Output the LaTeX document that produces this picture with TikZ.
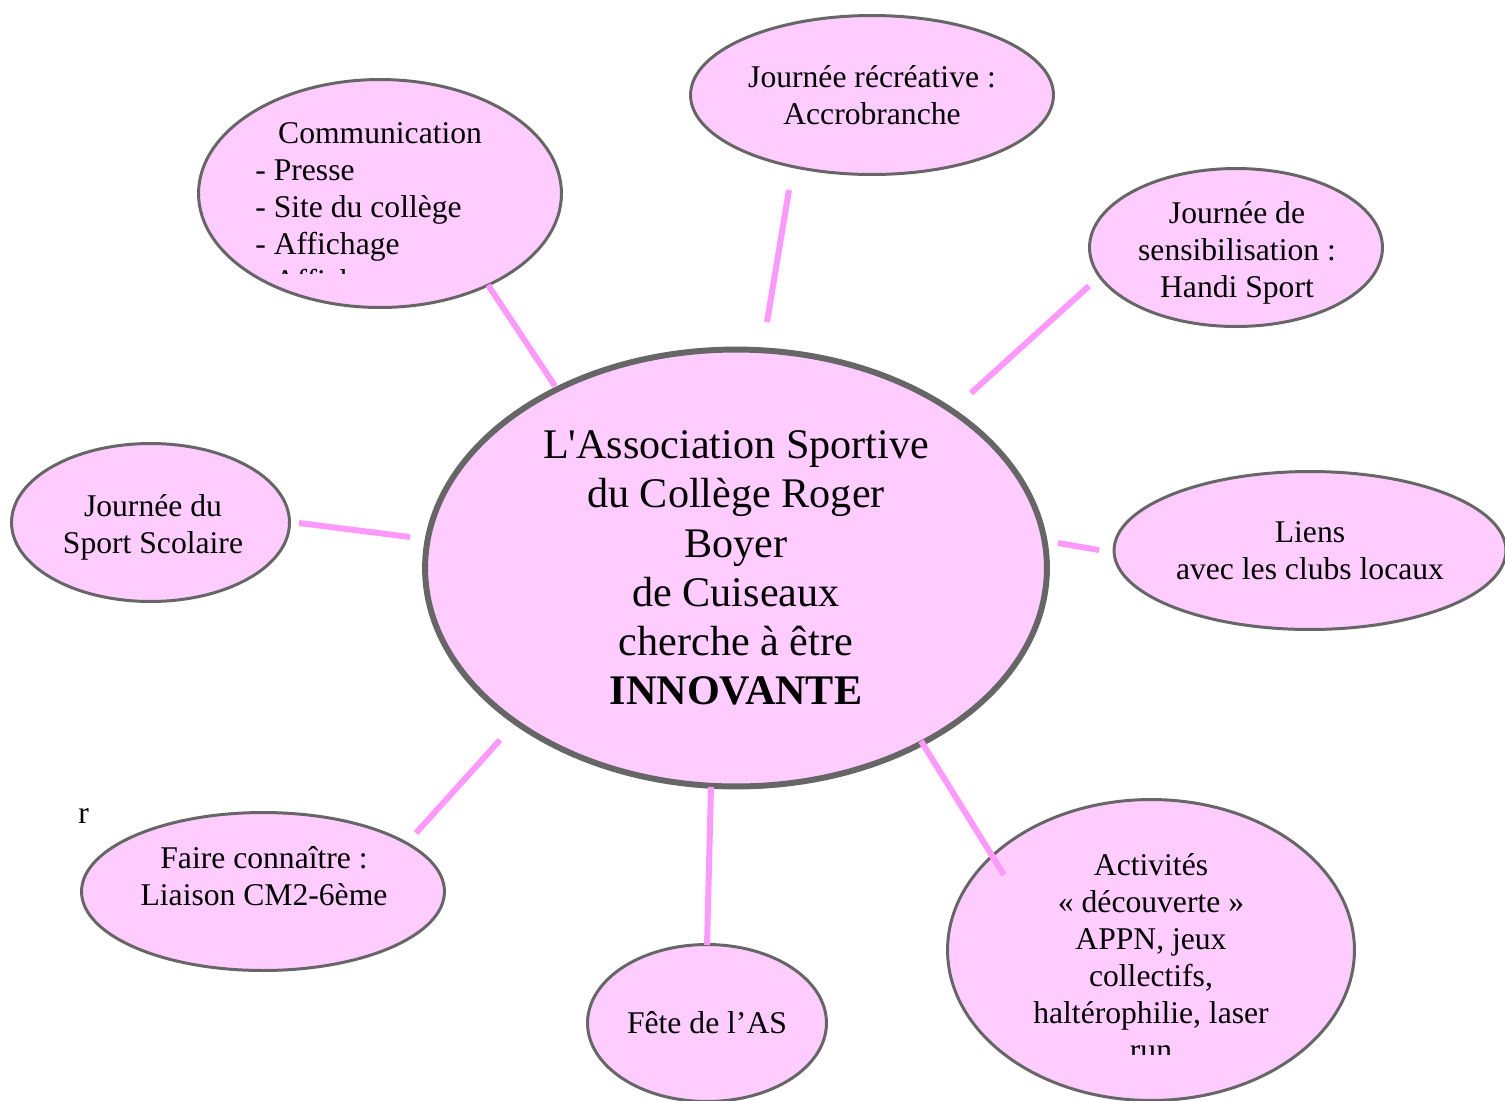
\documentclass[tikz,border=0pt]{standalone}
\usepackage{fontspec}
\setmainfont{Liberation Serif}[Ligatures=TeXOff]
\usetikzlibrary{shapes.geometric}
\definecolor{bubblefill}{HTML}{FFCCFF}
\definecolor{bubbleline}{HTML}{666666}
\definecolor{linkpink}{HTML}{FF99FF}
\tikzset{
  bubble/.style={ellipse,draw=bubbleline,fill=bubblefill,line width=1.7pt,inner sep=0pt,align=center,font=\fontsize{18}{21}\selectfont},
  hub/.style={bubble,line width=3.4pt,font=\fontsize{24}{28}\selectfont},
  txt/.style={inner sep=0pt,align=center,font=\fontsize{18}{21}\selectfont},
  link/.style={draw=linkpink,line width=3.4pt}
}
\begin{document}
\begin{tikzpicture}[x=0.02cm,y=-0.02cm]
      \clip (0,0) rectangle (1505,1100);
      \fill[white] (0,0) rectangle (1505,1100);
      % bubbles
      \node[hub,minimum width=12.44cm,minimum height=8.74cm] (as) at (736,568)
        {L'Association Sportive\\du Collège Roger\\Boyer\\de Cuiseaux\\cherche à être\\\textbf{INNOVANTE}};
      \node[bubble,minimum width=7.26cm,minimum height=4.56cm] (comm) at (380,193.5) {};
      \node[bubble,minimum width=7.26cm,minimum height=3.18cm] (recre) at (872,95) {Journée récréative :\\Accrobranche};
      \node[bubble,minimum width=5.86cm,minimum height=3.16cm] (handi) at (1236,247.5) {};
      \node[bubble,minimum width=7.84cm,minimum height=3.16cm] (liens) at (1310,550.5) {Liens\\avec les clubs locaux};
      \node[bubble,minimum width=5.56cm,minimum height=3.16cm] (scol) at (150.5,522.5) {};
      \node[bubble,minimum width=7.26cm,minimum height=3.16cm] (cm2) at (263,891.5) {};
      \node[bubble,minimum width=4.78cm,minimum height=3.14cm] (fete) at (707,1023) {Fête de l’AS};
      \node[bubble,minimum width=8.14cm,minimum height=6.02cm] (decouv) at (1151,950) {};
      % texts placed by their last baseline
      \node[txt,anchor=base] (handitxt) at (1237,297) {Journée de\\sensibilisation :\\Handi Sport};
      \node[txt,anchor=base] (scoltxt) at (153,553) {Journée du\\Sport Scolaire};
      \node[txt,anchor=base] (cm2txt) at (264,905) {Faire connaître :\\Liaison CM2-6ème};
      \begin{scope}
      \clip (200,100) rectangle (560,273);
      \node[txt,align=left,anchor=base west] (commtxt) at (255,291)
        {\hspace{13pt}Communication\\- Presse\\- Site du collège\\- Affichage\\- Affichage};
      \end{scope}
      \begin{scope}
      \clip (950,840) rectangle (1350,1054);
      \node[txt,anchor=base] (decouvtxt) at (1151,1060)
        {Activités\\« découverte »\\APPN, jeux\\collectifs,\\haltérophilie, laser\\run};
      \end{scope}
      \node[txt,anchor=base west] (r) at (78,823) {r};
      % link ends
      \coordinate (a1) at (488,285);  \coordinate (a2) at (555,386);
      \coordinate (b1) at (789,190);  \coordinate (b2) at (767,322);
      \coordinate (c1) at (1089,286); \coordinate (c2) at (971,393);
      \coordinate (d1) at (1058,543); \coordinate (d2) at (1099,550);
      \coordinate (e1) at (299,523);  \coordinate (e2) at (410,537);
      \coordinate (f1) at (500,740);  \coordinate (f2) at (416,833);
      \coordinate (g1) at (711,787);  \coordinate (g2) at (707,945);
      \coordinate (h1) at (921,741);  \coordinate (h2) at (1004,875);
      \begin{scope}[every path/.style={link}]
      \path (a1) edge (a2);
      \path (b1) edge (b2);
      \path (c1) edge (c2);
      \path (d1) edge (d2);
      \path (e1) edge (e2);
      \path (f1) edge (f2);
      \path (g1) edge (g2);
      \path (h1) edge (h2);
      \end{scope}
\end{tikzpicture}
\end{document}
